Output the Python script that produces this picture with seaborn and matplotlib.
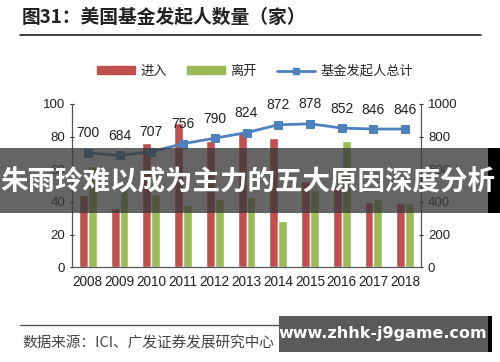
import matplotlib
matplotlib.use("Agg")
import matplotlib.pyplot as plt
import seaborn as sns
import pandas as pd
from matplotlib.patches import Rectangle
from matplotlib.lines import Line2D

# data
years = ["2008", "2009", "2010", "2011", "2012", "2013", "2014", "2015", "2016", "2017", "2018"]
enter = [44, 36, 76, 88, 77, 82, 79, 53, 50, 40, 39]
leave = [62, 47, 45, 38, 42, 43, 28, 47, 77, 42, 39]
total = [700, 684, 707, 756, 790, 824, 872, 878, 852, 846, 846]

red = "#C0504D"
green = "#9BBB59"
blue = "#4F81BD"

sns.set_style("white")
plt.rcParams["font.family"] = ["Liberation Sans", "Noto Sans CJK SC", "DejaVu Sans"]
cjk = ["Noto Sans CJK SC", "DejaVu Sans"]

df = pd.DataFrame({
    "year": years * 2,
    "value": enter + leave,
    "kind": ["进入"] * len(years) + ["离开"] * len(years),
})

fig = plt.figure(figsize=(5, 3.62), dpi=100)
ax = fig.add_axes([0.144, 0.262, 0.698, 0.451])

sns.barplot(data=df, x="year", y="value", hue="kind", palette=[red, green],
            width=0.56, ax=ax, legend=False, saturation=1)
ax.set_ylim(0, 100)
ax.set_yticks(range(0, 101, 20))
ax.set_xlim(-0.5, len(years) - 0.5)
ax.set_xlabel("")
ax.set_ylabel("")

ax2 = ax.twinx()
sns.lineplot(x=list(range(len(years))), y=total, ax=ax2, color=blue, lw=2,
             marker="s", markersize=6, markeredgecolor=blue)
ax2.set_ylim(0, 1000)
ax2.set_yticks(range(0, 1001, 200))
for i, v in enumerate(total):
    ax2.annotate(str(v), (i, v), xytext=(0, 14), textcoords="offset points",
                 ha="center", va="center", fontsize=10, color="#222222")

for a in (ax, ax2):
    for s in a.spines.values():
        s.set_color("#555555")
    a.spines["top"].set_visible(False)
    a.tick_params(labelsize=9.5, colors="#222222", length=3, direction="inout")
ax.set_xticks([i + 0.5 for i in range(-1, len(years))], minor=True)
ax.tick_params(axis="x", which="major", length=0, pad=6, labelsize=9.8)
ax.tick_params(axis="x", which="minor", length=4, direction="in", color="#555555")

# title and rules
fig.text(0.044, 0.952, "图31：美国基金发起人数量（家）", family=cjk, fontsize=13.5,
         fontweight="bold", color="#222222", va="center")
fig.add_artist(Line2D([0.04, 0.962], [0.903, 0.903], color="#222222", lw=1.2))
fig.add_artist(Line2D([0.04, 0.962], [0.102, 0.102], color="#555555", lw=1))
fig.text(0.044, 0.052, "数据来源：ICI、广发证券发展研究中心", family=cjk, fontsize=10.5,
         color="#444444", va="center")

handles = [Rectangle((0, 0), 1, 1, color=red), Rectangle((0, 0), 1, 1, color=green),
           Line2D([0], [0], color=blue, lw=2, marker="s", markersize=5)]
fig.legend(handles, ["进入", "离开", "基金发起人总计"], loc="center", ncol=3,
           bbox_to_anchor=(0.51, 0.803), frameon=False, prop={"family": cjk, "size": 9.5},
           handlelength=2.9, handleheight=0.5, columnspacing=1.5, handletextpad=0.4)

# overlay banner
fig.add_artist(Rectangle((0, 0.412), 1, 0.179, transform=fig.transFigure,
                         color="#3a3a3a", alpha=0.78, lw=0))
fig.add_artist(Rectangle((0.976, 0.412), 0.024, 0.179, transform=fig.transFigure,
                         color="black", lw=0))
fig.text(0.495, 0.497, "朱雨玲难以成为主力的五大原因深度分析", family=cjk, fontsize=19.8,
         fontweight="bold", color="white", ha="center", va="center")

# watermark box
fig.add_artist(Rectangle((0.558, 0.028), 0.418, 0.1, transform=fig.transFigure,
                         color="#5a5a5a", lw=0))
fig.add_artist(Rectangle((0.976, 0.028), 0.008, 0.1, transform=fig.transFigure,
                         color="black", lw=0))
fig.text(0.766, 0.08, "www.zhhk-j9game.com", family=["DejaVu Sans"], fontsize=11.5,
         fontweight="bold", color="white", ha="center", va="center")

fig.savefig("out.png", dpi=100)
